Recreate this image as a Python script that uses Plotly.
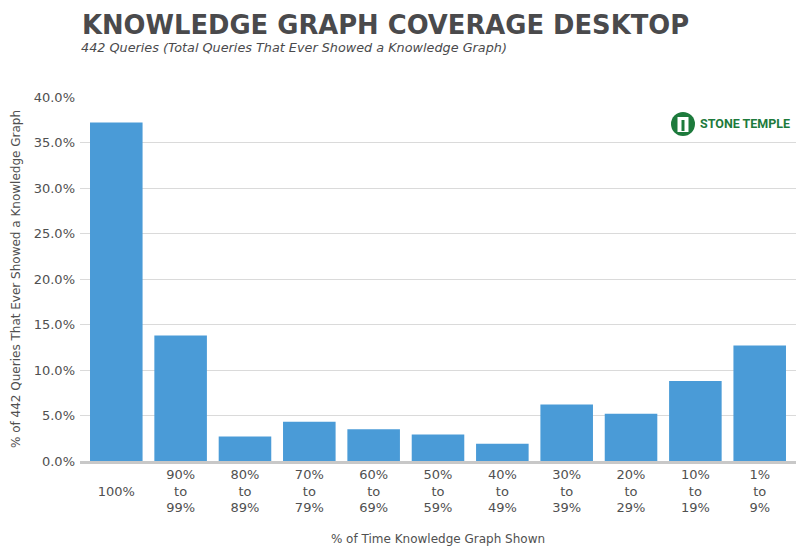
import plotly.graph_objects as go

categories = ["100%", "90% to 99%", "80% to 89%", "70% to 79%", "60% to 69%",
              "50% to 59%", "40% to 49%", "30% to 39%", "20% to 29%",
              "10% to 19%", "1% to 9%"]
tick_labels = ["<br>100%", "90%<br>to<br>99%", "80%<br>to<br>89%", "70%<br>to<br>79%",
               "60%<br>to<br>69%", "50%<br>to<br>59%", "40%<br>to<br>49%",
               "30%<br>to<br>39%", "20%<br>to<br>29%", "10%<br>to<br>19%", "1%<br>to<br>9%"]
values = [37.2, 13.8, 2.7, 4.3, 3.5, 2.9, 1.9, 6.2, 5.2, 8.8, 12.7]
y_ticks = [0, 5, 10, 15, 20, 25, 30, 35, 40]
y_tick_labels = [f"{v:.1f}%" for v in y_ticks]

W, H = 800, 552
L, R, T, B = 80, 4, 97, 91
PW, PH = W - L - R, H - T - B

def px(x):
    return (x - L) / PW

def py(y):
    return (H - B - y) / PH

FONT = "DejaVu Sans"
GREY = "#505050"

fig = go.Figure()
fig.add_trace(go.Bar(
    x=list(range(len(categories))), y=values,
    marker=dict(color="#4a9bd7", line=dict(width=0)),
    hovertext=categories,
))

fig.update_layout(
    width=W, height=H,
    margin=dict(l=L, r=R, t=T, b=B),
    paper_bgcolor="white", plot_bgcolor="white",
    bargap=0.183,
    showlegend=False,
    font=dict(family=FONT, color=GREY, size=13),
    xaxis=dict(
        range=[-0.564, len(categories) - 1 + 0.564],
        tickmode="array", tickvals=list(range(len(categories))), ticktext=tick_labels,
        showline=True, linecolor="#c8c8c8", linewidth=3,
        showgrid=False, zeroline=False,
        ticks="", ticklabelstandoff=-1,
        tickfont=dict(family=FONT, size=13, color=GREY),
        title=dict(text="% of Time Knowledge Graph Shown", standoff=21,
                   font=dict(family=FONT, size=12, color=GREY)),
    ),
    yaxis=dict(
        range=[0, 40],
        tickmode="array", tickvals=y_ticks, ticktext=y_tick_labels,
        showgrid=True, gridcolor="#dadada", gridwidth=1,
        zeroline=False, showline=False,
        ticks="", ticklabelstandoff=4,
        tickfont=dict(family=FONT, size=13, color=GREY),
        title=dict(text="% of 442 Queries That Ever Showed a Knowledge Graph", standoff=10,
                   font=dict(family=FONT, size=12, color=GREY)),
    ),
)

fig.add_annotation(
    text="<b>KNOWLEDGE GRAPH COVERAGE DESKTOP</b>",
    xref="paper", yref="paper", x=px(80), y=py(25),
    xanchor="left", yanchor="middle", showarrow=False,
    font=dict(family=FONT, size=25.8, color="#4a4a4c"),
)
fig.add_annotation(
    text="<i>442 Queries (Total Queries That Ever Showed a Knowledge Graph)</i>",
    xref="paper", yref="paper", x=px(79), y=py(47),
    xanchor="left", yanchor="middle", showarrow=False,
    font=dict(family=FONT, size=12.8, color="#4a4a4c"),
)

# Stone Temple logo
GREEN = "#1d7a3c"
fig.add_shape(type="circle", xref="paper", yref="paper",
              x0=px(671), x1=px(695), y0=py(136), y1=py(112),
              fillcolor=GREEN, line=dict(width=0))
fig.add_shape(type="rect", xref="paper", yref="paper",
              x0=px(677.5), x1=px(688.5), y0=py(132), y1=py(117),
              fillcolor="white", line=dict(width=0))
fig.add_shape(type="rect", xref="paper", yref="paper",
              x0=px(681.5), x1=px(684.5), y0=py(131), y1=py(120),
              fillcolor=GREEN, line=dict(width=0))
fig.add_annotation(
    text="<b>STONE TEMPLE</b>",
    xref="paper", yref="paper", x=px(698), y=py(124),
    xanchor="left", yanchor="middle", showarrow=False,
    font=dict(family="Roboto", size=12.5, color=GREEN),
)

fig.write_html("out.html", config={"displayModeBar": False},
               post_script="document.body.style.margin='0';")
